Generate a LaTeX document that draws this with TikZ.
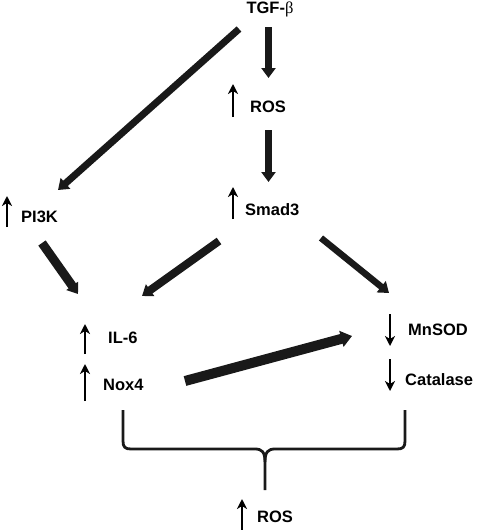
\documentclass[tikz,border=0pt]{standalone}
\usepackage{fontspec}
\setmainfont{Liberation Sans}
\newfontfamily\betafont{Liberation Serif}
\usetikzlibrary{arrows.meta}
\tikzset{
  lbl/.style={font=\fontsize{16.5}{19}\selectfont\bfseries, inner sep=0pt, anchor=west},
  bigarrow/.style={line width=7pt, color=black!90, -{Triangle[length=10pt,width=14pt]}},
  hugearrow/.style={line width=10pt, color=black!90, -{Triangle[length=11pt,width=16pt]}},
  updown/.style={line width=2.8pt, -{Stealth[length=10pt,width=10pt,inset=3pt]}},
  bracepath/.style={line width=2.8pt, color=black!90}
}
\begin{document}
\begin{tikzpicture}[x=1pt,y=-1pt]
\useasboundingbox (0,0) rectangle (478,530);
% text nodes
\node[lbl, anchor=center] (tgf) at (270,9) {TGF-{\betafont\mdseries β}};
\node[lbl] (ros1) at (250,107) {ROS};
\node[lbl] (smad) at (245,210) {Smad3};
\node[lbl] (pi3k) at (21,217) {PI3K};
\node[lbl] (il6) at (108,338) {IL-6};
\node[lbl] (nox) at (103,385) {Nox4};
\node[lbl] (mnsod) at (408,330) {MnSOD};
\node[lbl] (cat) at (405,380) {Catalase};
\node[lbl] (ros2) at (257,517) {ROS};
% small up/down arrows
\draw[updown] (233,117) -- (233,84);
\draw[updown] (233,219) -- (233,187);
\draw[updown] (7,227) -- (7,196);
\draw[updown] (85,354) -- (85,324);
\draw[updown] (85,401) -- (85,364);
\draw[updown] (390,314) -- (390,346);
\draw[updown] (390,359) -- (390,391);
\draw[updown] (242,531) -- (242,499);
% connector endpoints
\coordinate (a1s) at (268.5,27);  \coordinate (a1e) at (268.5,78);
\coordinate (a2s) at (268.5,130); \coordinate (a2e) at (268.5,182);
\coordinate (a3s) at (239,29);  \coordinate (a3e) at (58,190);
\coordinate (a4s) at (42,243);  \coordinate (a4e) at (78,294);
\coordinate (a5s) at (219,241); \coordinate (a5e) at (142,296);
\coordinate (a6s) at (321,238); \coordinate (a6e) at (389,293);
\coordinate (a7s) at (185,381); \coordinate (a7e) at (352,336);
\draw[bigarrow] (a1s) -- (a1e);
\draw[bigarrow] (a2s) -- (a2e);
\draw[bigarrow] (a3s) -- (a3e);
\draw[bigarrow,line width=9pt] (a4s) -- (a4e);
\draw[bigarrow,line width=8pt] (a5s) -- (a5e);
\draw[bigarrow,line width=6.5pt] (a6s) -- (a6e);
\draw[hugearrow] (a7s) -- (a7e);
% brace
\coordinate (bl) at (123,410);
\coordinate (br) at (405,410);
\coordinate (bt) at (265,490);
\draw[bracepath] (bl) -- (123,441) .. controls (123,447) and (125,449) .. (131,449)
  -- (255,449) .. controls (262,449) and (265,452) .. (265,462) -- (bt);
\draw[bracepath] (br) -- (405,441) .. controls (405,447) and (403,449) .. (397,449)
  -- (275,449) .. controls (268,449) and (265,452) .. (265,462);
\end{tikzpicture}
\end{document}
